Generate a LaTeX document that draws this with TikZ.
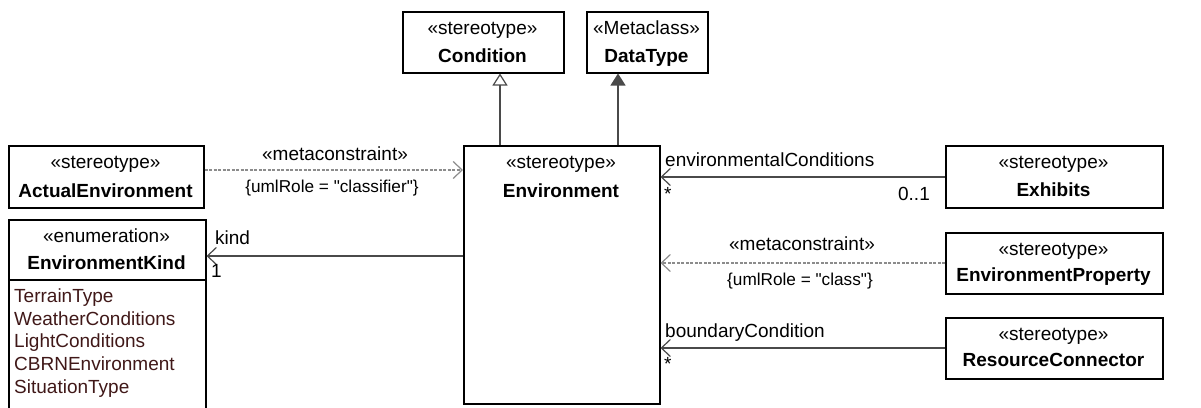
\documentclass[tikz,border=0pt]{standalone}
\usepackage{fontspec}
\setmainfont{Liberation Sans}[Ligatures=TeXOff]
\usetikzlibrary{arrows.meta}
\definecolor{conn}{HTML}{4A4A4A}
\definecolor{dashc}{HTML}{8C8C8C}
\definecolor{lit}{HTML}{401818}
\begin{document}
\begin{tikzpicture}[x=1pt,y=-1pt,
  umlbox/.style={draw=black,line width=1.5pt,inner sep=0pt,anchor=north west,rectangle},
  stxt/.style={font=\fontsize{19}{22}\selectfont,inner sep=0pt,anchor=base},
  ntxt/.style={font=\fontsize{19}{22}\selectfont\bfseries,inner sep=0pt,anchor=base},
  ctxt/.style={font=\fontsize{17.2}{20}\selectfont,inner sep=0pt,anchor=base},
  littxt/.style={font=\fontsize{19}{22}\selectfont,text=lit,inner sep=0pt,anchor=base west},
  assoc/.style={draw=conn,line width=1.2pt,-{Straight Barb[length=9pt,width=17pt,line width=1.2pt]}},
  dep/.style={draw=dashc,line width=1.2pt,dash pattern=on 3pt off 1.5pt,-{Straight Barb[length=9pt,width=17pt,line width=1.2pt,sep=0pt]}},
  gen/.style={draw=conn,line width=1.2pt,-{Triangle[open,length=12pt,width=15pt,fill=white,line width=1.2pt]}},
  ext/.style={draw=conn,line width=1.2pt,-{Triangle[length=12pt,width=15pt,line width=1.2pt]}},
]
\useasboundingbox (0,0) rectangle (1201,407);
\clip (0,0) rectangle (1201,407);

% boxes
\node[umlbox,minimum width=161pt,minimum height=61pt] (Cond) at (402,11) {};
\node[stxt] at (482.5,34) {«stereotype»};
\node[ntxt] at (482.5,62) {Condition};

\node[umlbox,minimum width=121pt,minimum height=61pt] (DT) at (586,11) {};
\node[stxt] at (646.5,34) {«Metaclass»};
\node[ntxt] at (646.5,62) {DataType};

\node[umlbox,minimum width=196pt,minimum height=258pt] (Env) at (463,145) {};
\node[stxt] at (561,168) {«stereotype»};
\node[ntxt] at (561,197) {Environment};

\node[umlbox,minimum width=195pt,minimum height=62pt] (AE) at (8,145) {};
\node[stxt] at (105.5,168) {«stereotype»};
\node[ntxt] at (105.5,197) {ActualEnvironment};

\node[umlbox,minimum width=197pt,minimum height=200pt] (EK) at (8,219) {};
\node[stxt] at (106.5,242) {«enumeration»};
\node[ntxt] at (106.5,269) {EnvironmentKind};
\draw[line width=1.5pt] (EK.west |- 0,280) -- (EK.east |- 0,280);
\node[littxt] at (14,302.5) {TerrainType};
\node[littxt] at (14,325) {WeatherConditions};
\node[littxt] at (14,347.7) {LightConditions};
\node[littxt] at (14,370.5) {CBRNEnvironment};
\node[littxt] at (14,393.2) {SituationType};

\node[umlbox,minimum width=217pt,minimum height=62pt] (Ex) at (945,145) {};
\node[stxt] at (1053.5,168) {«stereotype»};
\node[ntxt] at (1053.5,196) {Exhibits};

\node[umlbox,minimum width=217pt,minimum height=61pt] (EP) at (945,232) {};
\node[stxt] at (1053.5,255) {«stereotype»};
\node[ntxt] at (1053.5,281) {EnvironmentProperty};

\node[umlbox,minimum width=217pt,minimum height=61pt] (RC) at (945,317) {};
\node[stxt] at (1053.5,340) {«stereotype»};
\node[ntxt] at (1053.5,366) {ResourceConnector};

% connectors
\draw[gen] (Env.north -| 500,0) -- (Cond.south -| 500,0);
\draw[ext] (Env.north -| 618,0) -- (DT.south -| 618,0);

\draw[dep] (AE.east |- 0,170) -- (Env.west |- 0,170);
\node[stxt] at (335,160) {«metaconstraint»};
\node[ctxt] at (332,192.5) {\{umlRole = "classifier"\}};

\draw[assoc] (Env.west |- 0,256) -- (EK.east |- 0,256);
\node[stxt,anchor=base west] at (215,244) {kind};
\node[stxt,anchor=base west] at (211,277) {1};

\draw[assoc] (Ex.west |- 0,177) -- (Env.east |- 0,177);
\node[stxt,anchor=base west] at (665,166) {environmentalConditions};
\node[stxt,anchor=base west] at (664,200) {*};
\node[stxt,anchor=base east] at (930,200) {0..1};

\draw[dep] (EP.west |- 0,263) -- (Env.east |- 0,263);
\node[stxt] at (802,250) {«metaconstraint»};
\node[ctxt] at (800,285) {\{umlRole = "class"\}};

\draw[assoc] (RC.west |- 0,348) -- (Env.east |- 0,348);
\node[stxt,anchor=base west] at (665,337) {boundaryCondition};
\node[stxt,anchor=base west] at (664,370) {*};
\end{tikzpicture}
\end{document}
